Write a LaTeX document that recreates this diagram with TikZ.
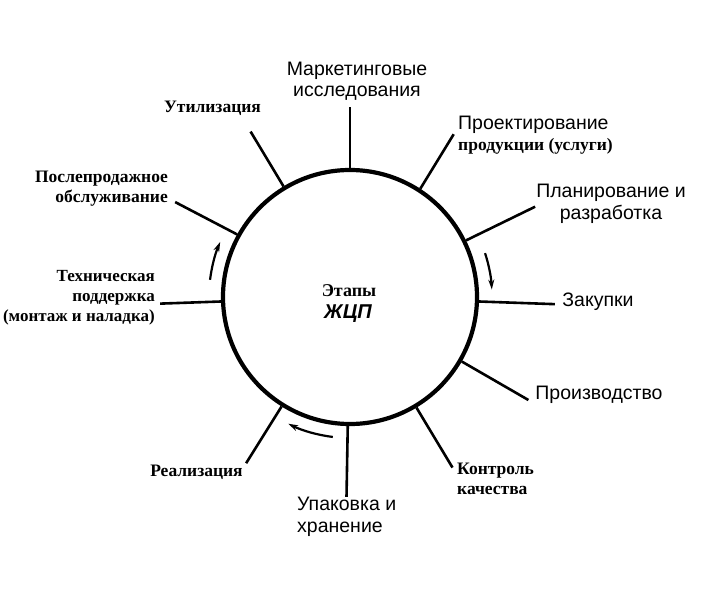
\documentclass[tikz,border=0pt]{standalone}
\usepackage{fontspec}
\setmainfont{Liberation Serif}
\setsansfont{Liberation Sans}
\usetikzlibrary{arrows.meta}

\begin{document}
\begin{tikzpicture}[x=1pt, y=1pt,
    stage/.style={font=\sffamily\fontsize{19.5}{21.5}\selectfont, align=center, inner sep=0pt},
    bstage/.style={font=\bfseries\fontsize{17.5}{20}\selectfont, align=center, inner sep=0pt},
    spoke/.style={line width=2.6pt},
    flow/.style={line width=2.2pt, -{Stealth[length=10pt, width=6pt]}}
]
\useasboundingbox (-350,-307) rectangle (359,297);

\node[circle, draw, line width=4.2pt, minimum size=254pt] (c) at (0,0) {};
\node[font=\bfseries\fontsize{18}{18}\selectfont] (ct1) at (-1,6) {Этапы};
\node[font=\sffamily\bfseries\itshape\fontsize{20}{20}\selectfont] (ct2) at (-2,-17) {ЖЦП};

% spoke ends
\coordinate (p-mark)  at (90:190);
\coordinate (p-proj)  at (57.5:193);
\coordinate (p-plan)  at (26:206);
\coordinate (p-zak)   at (-2:205);
\coordinate (p-proiz) at (-30:206);
\coordinate (p-kontr) at (-59:199);
\coordinate (p-upak)  at (-91:200);
\coordinate (p-real)  at (-122:196);
\coordinate (p-tech)  at (182:190);
\coordinate (p-posl)  at (151.5:199);
\coordinate (p-util)  at (121:193);

\draw[spoke] (c.90)    -- (p-mark);
\draw[spoke] (c.57.5)  -- (p-proj);
\draw[spoke] (c.26)    -- (p-plan);
\draw[spoke] (c.-2)    -- (p-zak);
\draw[spoke] (c.-30)   -- (p-proiz);
\draw[spoke] (c.-59)   -- (p-kontr);
\draw[spoke] (c.-91)   -- (p-upak);
\draw[spoke] (c.-122)  -- (p-real);
\draw[spoke] (c.182)   -- (p-tech);
\draw[spoke] (c.151.5) -- (p-posl);
\draw[spoke] (c.121)   -- (p-util);

% labels
\node[stage] (mark) at (7,216) {Маркетинговые\\исследования};
\node[bstage] (util) at (-137.5,189) {Утилизация};
\node[stage, anchor=west, align=left] (proj) at (108,162)
    {Проектирование\\{\rmfamily\bfseries\fontsize{17.5}{20}\selectfont продукции (услуги)}};
\node[stage] (plan) at (261,93) {Планирование и\\разработка};
\node[stage] (zak) at (248,-5) {Закупки};
\node[stage] (proiz) at (249,-98) {Производство};
\node[bstage, anchor=west, align=left] (kontr) at (107,-182) {Контроль\\качества};
\node[stage, anchor=west, align=left] (upak) at (-53,-220) {Упаковка и\\хранение};
\node[bstage] (real) at (-153.5,-175) {Реализация};
\node[bstage, font=\bfseries\fontsize{17}{20}\selectfont, anchor=east, align=right] (tech) at (-195,-1)
    {Техническая\\поддержка\\(монтаж и наладка)};
\node[bstage, anchor=east, align=right] (posl) at (-182,108) {Послепродажное\\обслуживание};

% direction of the cycle
\draw[flow] (18:142) arc[start angle=18, end angle=3, radius=142];
\draw[flow] (-97:141) arc[start angle=-97, end angle=-116, radius=141];
\draw[flow] (173:141) arc[start angle=173, end angle=157, radius=141];
\end{tikzpicture}
\end{document}
